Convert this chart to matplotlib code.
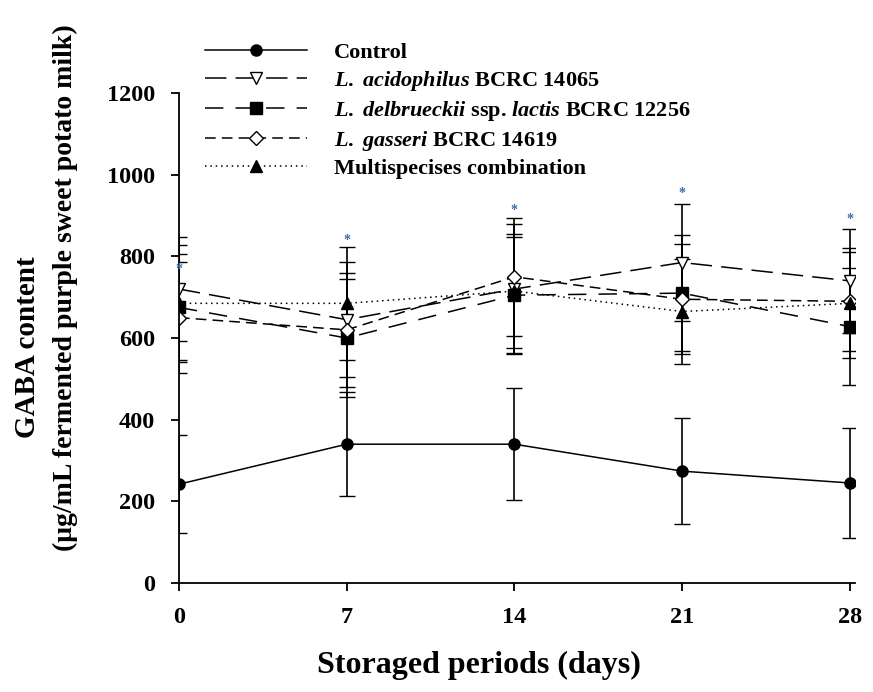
import matplotlib.pyplot as plt
from matplotlib.lines import Line2D

plt.rcParams['font.family'] = 'Liberation Serif'
plt.rcParams['font.weight'] = 'bold'
plt.rcParams['mathtext.fontset'] = 'custom'
plt.rcParams['mathtext.it'] = 'Liberation Serif:italic:bold'
plt.rcParams['mathtext.rm'] = 'Liberation Serif:bold'

days = [0, 7, 14, 21, 28]

control = [242, 340, 340, 274, 245]
control_err = [120, 127, 137, 130, 134]
acidophilus = [720, 645, 720, 785, 740]
acidophilus_err = [127, 141, 160, 143, 127]
delbrueckii = [675, 600, 705, 710, 628]
delbrueckii_err = [130, 144, 142, 142, 143]
gasseri = [650, 620, 750, 695, 690]
gasseri_err = [136, 139, 144, 135, 121]
multi = [685, 685, 715, 665, 685]
multi_err = [143, 138, 140, 128, 135]

star_y = [769, 838, 913, 955, 891]

labels = ['Control',
          r'$\mathit{L.}$ $\mathit{acidophilus}$ BCRC 14065',
          r'$\mathit{L.}$ $\mathit{delbrueckii}$ ssp. $\mathit{lactis}$ BCRC 12256',
          r'$\mathit{L.}$ $\mathit{gasseri}$ BCRC 14619',
          'Multispecises combination']
styles = [dict(marker='o', linestyle='-', markerfacecolor='black'),
          dict(marker='v', dashes=(14, 6), markerfacecolor='white'),
          dict(marker='s', dashes=(12, 8), markerfacecolor='black'),
          dict(marker='D', dashes=(7, 4), markerfacecolor='white', markersize=7),
          dict(marker='^', dashes=(1, 2.5), markerfacecolor='black')]
series = [(control, control_err), (acidophilus, acidophilus_err),
          (delbrueckii, delbrueckii_err), (gasseri, gasseri_err), (multi, multi_err)]

fig = plt.figure(figsize=(8.73, 6.92), dpi=100)
ax = fig.add_axes([0.205, 0.1575, 0.774, 0.708])

handles = []
for (vals, errs), st, lab in zip(series, styles, labels):
    kw = dict(color='black', linewidth=1.1, markersize=8,
              markeredgecolor='black', markeredgewidth=1)
    kw.update(st)
    ax.errorbar(days, vals, yerr=errs, ecolor='black', elinewidth=1.2,
                capsize=6, capthick=1.2, **kw)
    handles.append(Line2D([], [], label=lab, **kw))

for d, s in zip(days, star_y):
    ax.text(d, s, '*', color='#3d6fa8', fontsize=10, ha='center', va='center')

ax.set_xlim(0, 28.2)
ax.set_ylim(0, 1200)
ax.set_xticks(days)
ax.set_yticks(range(0, 1201, 200))
ax.spines['top'].set_visible(False)
ax.spines['right'].set_visible(False)
ax.spines['left'].set_linewidth(1.3)
ax.spines['bottom'].set_linewidth(1.3)
ax.tick_params(direction='out', length=6, width=1.3, labelsize=17.5)
ax.tick_params(axis='y', pad=11)
ax.tick_params(axis='x', pad=11)
for lbl in ax.get_xticklabels() + ax.get_yticklabels():
    lbl.set_fontweight('bold')

fig.text(479 / 873, 1 - 665 / 692, 'Storaged periods (days)', fontsize=23,
         fontweight='bold', ha='center', va='center')
fig.text(28 / 873, 1 - 347 / 692, 'GABA content', fontsize=21, fontweight='bold',
         rotation=90, ha='center', va='center')
fig.text(65 / 873, 1 - 288 / 692, '(μg/mL fermented purple sweet potato milk)',
         fontsize=20, fontweight='bold', rotation=90, ha='center', va='center')

fig.legend(handles=handles, loc='upper left', bbox_to_anchor=(205 / 873, 1 - 42 / 692),
           frameon=False, fontsize=16, handlelength=4.6, handletextpad=1.2,
           labelspacing=0.27, borderpad=0, borderaxespad=0)

fig.savefig('out.png', dpi=100)
